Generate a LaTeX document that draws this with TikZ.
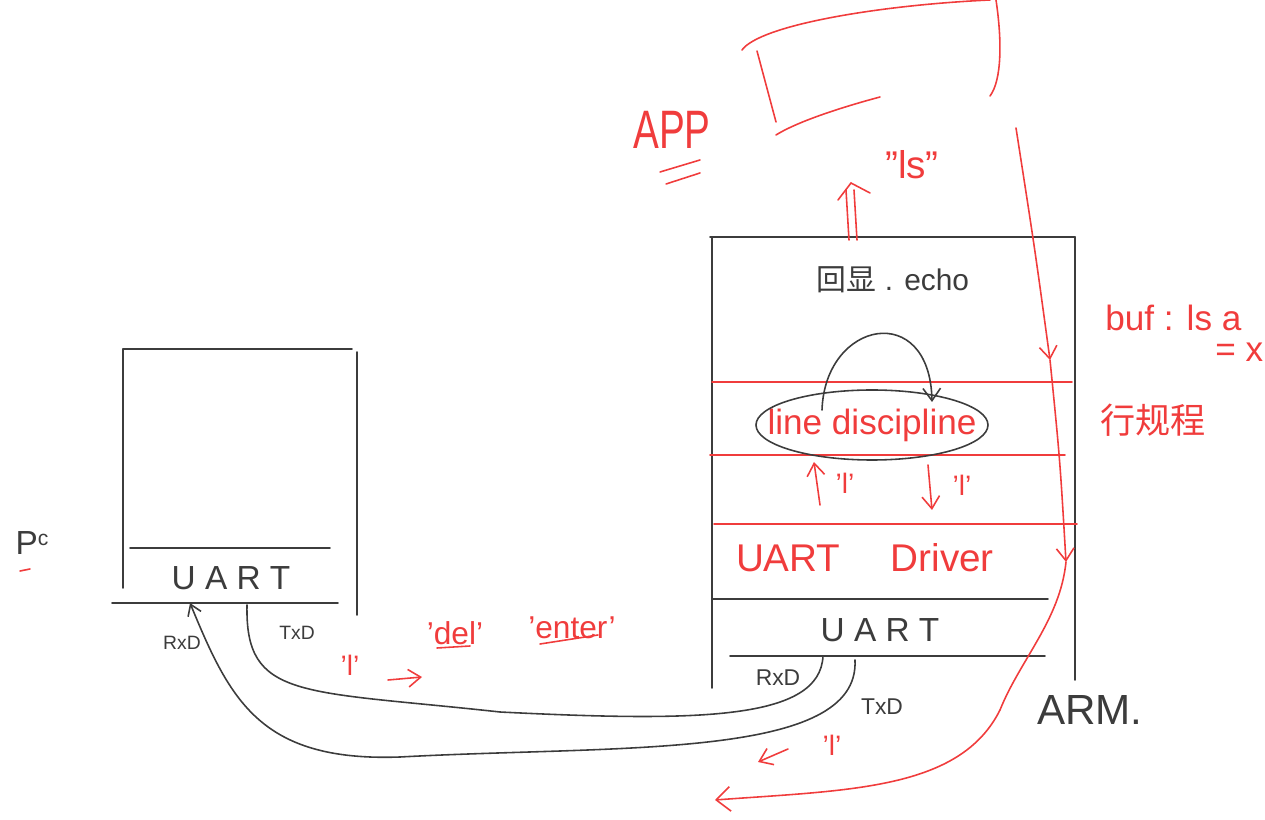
\documentclass[tikz,border=0pt]{standalone}
\usepackage{fontspec}
\setmainfont{Liberation Sans}
\newfontfamily\cjk{Noto Sans CJK SC}
\usetikzlibrary{arrows.meta}
\definecolor{pen}{RGB}{60,60,60}
\definecolor{rpen}{RGB}{240,60,60}
\begin{document}
\begin{tikzpicture}[x=0.02cm,y=-0.02cm,
  blk/.style={draw=pen,line width=0.9pt,line cap=round},
  red/.style={draw=rpen,line width=0.9pt,line cap=round},
  blab/.style={text=pen,inner sep=0pt,font=\fontsize{19}{20}\selectfont},
  rlab/.style={text=rpen,inner sep=0pt,font=\fontsize{22}{24}\selectfont},
  small/.style={text=pen,inner sep=0pt,font=\fontsize{11}{12}\selectfont},
  vtip/.style={-{Straight Barb[length=7pt,width=10pt]}}]
\useasboundingbox (0,0) rectangle (1265,820);
% ---------- PC ----------
\draw[blk] (123,349) -- (352,349);
\draw[blk] (123,349) -- (123,588);
\draw[blk] (357,352) -- (357,615);
\draw[blk] (130,548) -- (330,548);
\draw[blk] (112,603) -- (338,603);
\node[blab] (pcuart) at (231,578) {U A R T};
\node[blab] (pc) at (32,543) {P\raisebox{0.5ex}{\fontsize{12}{12}\selectfont c}};
\draw[red] (20,571) -- (30,569);
\node[small] (pcrxd) at (182,643) {RxD};
\node[small] (pctxd) at (297,633) {TxD};
\coordinate (pcR) at (190,603);
\coordinate (pcT) at (247,605);
% ---------- ARM ----------
\draw[blk] (710,237) -- (1075,237);
\draw[blk] (712,237) -- (712,688);
\draw[blk] (1075,237) -- (1075,680);
\draw[red] (712,382) -- (1072,382);
\draw[red] (710,455) -- (1065,455);
\draw[red] (714,524) -- (1077,524);
\draw[blk] (712,599) -- (1048,599);
\draw[blk] (730,656) -- (1045,656);
\node[blab] (armuart) at (880,630) {U A R T};
\node[rlab] (drv) at (865,558) {UART\hspace{1.3em}Driver};
\node[rlab,font=\fontsize{20}{22}\selectfont] (ld) at (872,425) {line discipline};
\draw[blk] (ld.center) ellipse [x radius=116, y radius=35];
\node[blab,font=\fontsize{17}{18}\selectfont] (echo) at (893,280) {{\cjk 回显} . echo};
\draw[blk,vtip] (822,410) .. controls (825,320) and (930,300) .. (932,402);
\node[small,font=\fontsize{13}{14}\selectfont] (armrxd) at (778,678) {RxD};
\node[small,font=\fontsize{13}{14}\selectfont] (armtxd) at (882,707) {TxD};
\node[blab,font=\fontsize{24}{26}\selectfont] (arm) at (1090,710) {ARM.};
\coordinate (armR) at (823,656);
\coordinate (armT) at (855,660);
% red arrows inside ARM
\draw[red,vtip] (820,505) -- (814,462);
\node[rlab,font=\fontsize{16}{16}\selectfont] (l1) at (845,483) {'l'};
\draw[red,vtip] (928,465) -- (932,510);
\node[rlab,font=\fontsize{16}{16}\selectfont] (l2) at (962,485) {'l'};
% ---------- serial lines ----------
\draw[blk] (pcT) .. controls (245,700) and (300,690) .. (500,712)
  .. controls (700,722) and (820,720) .. (armR);
\draw[blk,-{Straight Barb[length=6pt,width=8pt]}] (armT) .. controls (860,760) and (620,745) .. (400,757)
  .. controls (260,762) and (230,700) .. (pcR);
% red labels along line
\node[rlab,font=\fontsize{16}{16}\selectfont] (lpc) at (350,665) {'l'};
\coordinate (ra1) at (388,680);
\coordinate (ra2) at (422,677);
\draw[red,vtip] (ra1) -- (ra2);
\node[rlab,font=\fontsize{18}{18}\selectfont] (del) at (455,633) {'del'};
\draw[red] (437,648) -- (470,646);
\node[rlab,font=\fontsize{18}{18}\selectfont] (enter) at (572,628) {'enter'};
\draw[red] (540,644) -- (598,635);
\node[rlab,font=\fontsize{16}{16}\selectfont] (larm) at (832,745) {'l'};
\coordinate (rb1) at (788,749);
\coordinate (rb2) at (758,762);
\draw[red,vtip] (rb1) -- (rb2);
% ---------- APP ----------
\draw[red] (742,50) .. controls (760,25) and (880,5) .. (990,0);
\draw[red] (996,0) .. controls (1002,40) and (1002,80) .. (990,96);
\draw[red] (757,51) -- (776,122);
\draw[red] (776,135) .. controls (800,120) and (850,105) .. (880,97);
\node[rlab,font=\fontsize{22}{22}\selectfont,yscale=1.4] (app) at (672,130) {APP};
\draw[red] (660,172) -- (700,160);
\draw[red] (666,184) -- (700,173);
\node[rlab,font=\fontsize{22}{22}\selectfont] (ls) at (912,165) {\symbol{34}ls\symbol{34}};
\draw[red] (849,240) -- (846,190);
\draw[red] (857,240) -- (854,190);
\draw[red] (838,200) -- (851,183) -- (870,193);
% big red flow arrow
\coordinate (f0) at (1016,128);
\coordinate (f1) at (1050,360);
\coordinate (f2) at (1066,562);
\coordinate (f3) at (715,800);
\draw[red,vtip] (f0) .. controls (1035,250) .. (f1);
\draw[red,vtip] (f1) .. controls (1060,460) .. (f2);
\draw[red,-{Straight Barb[length=8pt,width=14pt]}] (f2) .. controls (1060,620) and (1020,660) .. (1000,710)
  .. controls (960,790) and (850,790) .. (f3);
% buf note
\node[rlab,font=\fontsize{20}{22}\selectfont,anchor=west] (buf) at (1105,318) {buf : ls a};
\node[rlab,font=\fontsize{20}{22}\selectfont,anchor=west] (bufx) at (1215,352) {= x};
\node[rlab,font=\fontsize{20}{22}\selectfont\cjk,anchor=west] (hgc) at (1100,420) {行规程};
\end{tikzpicture}
\end{document}
